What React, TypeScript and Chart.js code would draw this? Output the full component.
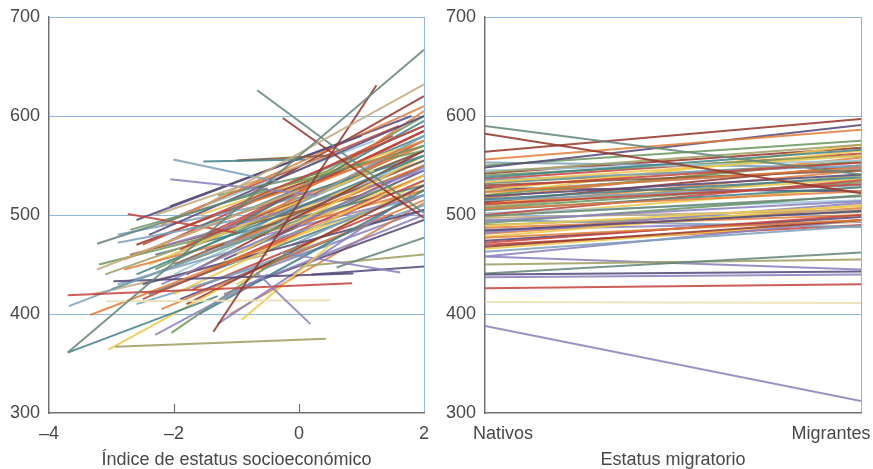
import { useEffect, useRef } from "react";
import { Chart, registerables } from "chart.js";

Chart.register(...registerables);

// ---------- Data: left panel (socioeconomic index vs score) ----------
const sesFrom = [
  -3.7, -1.5, -1.37, -0.67, -0.26, -0.68, -2.94, -3.08, -3.7, -3.7,
  -3.68, -3.34, -3.23, -3.23, -2.9, -2.74, -3.05, -2.3, -2.04, -2.01,
  -1.53, -1.0, -2.06, -2.06, -0.92, -0.3, 0.2, 0.6, 0.0, -2.97,
  -2.5, -2.8, -2.6, -2.2, -2.0, -1.8, -2.4, -2.2, -2.7, -1.5,
  -1.2, -1.0, -2.0, -2.9, -3.0, -2.5, -1.6, -1.3, -2.2, -1.8,
  -1.0, -0.5, -2.6, -2.3, -1.6, -2.1, -2.8, -2.5, -1.5, -1.2,
  -0.8, -1.9, -1.1, -0.9, -2.4, -3.1, -2.0, -1.7, -1.4, -2.3,
  -0.7, -1.5, -2.7, -0.4, -1.9, -2.6, -1.1, -3.3, -0.2, -1.3,
  -2.9, -0.6, -1.8, -0.8, -1.0, -2.2, -3.2, -1.8, -1.4, -0.6,
  -2.3, -1.2, -0.9, -1.6, -2.0, -0.3, -1.7, -2.1, -0.5, -1.0,
  -2.6, -1.3, -0.1, -2.4, -1.9,
];
const sesTo = [
  2, 2, 1.24, 2, 2, 0.18, 0.43, 0.5, 0.85, -1.3,
  -0.5, -0.2, 0, -0.5, -1, -1, -1.2, -0.5, 0, -0.3,
  0.1, 0.5, 0.3, 1, 0.5, 1.62, 2, 2, 2, 0.87,
  2, 2, 2, 2, 2, 2, 2, 2, 2, 2,
  2, 2, 2, 2, 1.5, 2, 2, 1.8, 2, 2,
  2, 2, 1.8, 0.5, 2, 2, 2, 2, 2, 2,
  2, 2, 2, 2, 1.2, 0.5, 1.8, 2, 2, 2,
  2, 2, 1.0, 2, 1.5, 0.5, 2, -0.5, 2, 2,
  0.2, 2, 2, 2, 2, 1.5, -1, 2, 2, 2,
  1.6, 2, 2, 2, 2, 2, 2, 1.2, 2, 1.8,
  0.8, 2, 2, 1.0, 1.6,
];
const scoreFrom = [
  361, 510, 382, 626, 598, 442, 367, 413, 419, 361,
  408, 399, 445, 471, 472, 501, 364, 379, 381, 556,
  554, 555, 536, 509, 394, 462, 440, 447, 448, 433,
  470, 455, 440, 430, 420, 410, 480, 490, 485, 480,
  470, 460, 450, 430, 425, 415, 400, 390, 405, 440,
  490, 500, 495, 500, 500, 470, 445, 430, 430, 420,
  430, 465, 505, 510, 450, 440, 440, 455, 445, 460,
  470, 465, 460, 480, 415, 410, 400, 420, 520, 520,
  480, 445, 485, 520, 430, 470, 450, 470, 490, 495,
  445, 455, 480, 475, 460, 500, 425, 495, 510, 475,
  470, 450, 470, 420, 500,
];
const scoreTo = [
  667, 632, 631, 502, 497, 390, 375, 414, 431, 418,
  485, 475, 525, 527, 495, 482, 428, 440, 470, 533,
  556, 560, 520, 580, 470, 442, 448, 477, 460, 441,
  590, 575, 560, 548, 540, 530, 600, 610, 570, 585,
  580, 560, 555, 520, 530, 535, 525, 520, 515, 565,
  595, 605, 600, 560, 575, 545, 525, 505, 510, 500,
  495, 585, 590, 570, 545, 520, 555, 550, 540, 530,
  550, 520, 520, 540, 500, 470, 512, 460, 585, 565,
  520, 505, 560, 620, 535, 580, 485, 570, 580, 575,
  560, 545, 560, 565, 565, 555, 520, 575, 600, 545,
  550, 525, 530, 500, 590,
];
const sesColorIdx = [
  10, 11, 1, 10, 1, 7, 4, 14, 0, 5,
  6, 2, 11, 10, 6, 0, 3, 7, 9, 6,
  5, 13, 7, 8, 3, 7, 8, 10, 4, 8,
  0, 2, 5, 7, 3, 1, 8, 2, 9, 0,
  6, 3, 13, 6, 9, 0, 5, 7, 2, 1,
  5, 2, 8, 11, 3, 7, 2, 8, 6, 7,
  8, 0, 10, 2, 3, 4, 12, 2, 0, 5,
  1, 7, 13, 3, 8, 6, 2, 11, 0, 9,
  6, 7, 5, 1, 3, 0, 9, 2, 5, 0,
  9, 8, 3, 13, 6, 7, 0, 12, 9, 2,
  1, 3, 6, 5, 0,
];
const sesTicks = [-4, -2, 0, 2];

// ---------- Data: right panel (migration status vs score) ----------
const migCategories = ["Nativos", "Migrantes"];
const nativos = [
  388, 412, 426, 437, 440, 441, 450, 458, 590, 582,
  564, 556, 548, 543, 538, 533, 528, 523, 519, 516,
  511, 506, 499, 494, 489, 484, 477, 472, 468, 463,
  458, 545, 540, 535, 530, 525, 520, 515, 510, 505,
  500, 497, 492, 487, 482, 478, 474, 466, 550, 553,
  520, 513, 508, 502, 495, 490, 485, 470, 517, 527,
  512, 536, 507, 481, 524, 542, 498, 532,
];
const migrantes = [
  312, 411, 430, 440, 443, 462, 455, 445, 541, 522,
  597, 586, 591, 571, 566, 560, 553, 548, 541, 538,
  531, 524, 519, 514, 509, 504, 495, 500, 495, 489,
  495, 555, 560, 550, 545, 565, 555, 530, 545, 528,
  535, 505, 520, 500, 512, 510, 498, 494, 575, 548,
  571, 550, 540, 515, 488, 503, 493, 490, 558, 524,
  536, 562, 533, 507, 547, 568, 528, 553,
];
const migColorIdx = [
  7, 14, 0, 7, 8, 10, 4, 7, 10, 1,
  1, 2, 8, 4, 5, 3, 0, 2, 8, 5,
  0, 2, 10, 7, 3, 8, 2, 0, 1, 6,
  7, 12, 9, 6, 13, 3, 9, 6, 2, 5,
  0, 11, 9, 2, 7, 3, 8, 3, 9, 6,
  3, 1, 4, 12, 6, 4, 7, 0, 2, 8,
  3, 0, 9, 2, 6, 1, 3, 10,
];

const yTicks = [300, 400, 500, 600, 700];

// ---------- Styles ----------
const PALETTE = [
  "rgba(196,66,58,0.85)",   // red
  "rgba(150,56,46,0.88)",   // dark red
  "rgba(226,124,58,0.85)",  // orange
  "rgba(238,200,76,0.88)",  // yellow
  "rgba(160,158,100,0.88)", // olive
  "rgba(63,127,134,0.85)",  // teal
  "rgba(126,160,188,0.88)", // blue-gray
  "rgba(140,130,190,0.88)", // purple
  "rgba(86,74,122,0.88)",   // dark purple
  "rgba(108,152,96,0.88)",  // green
  "rgba(104,136,122,0.88)", // gray-green
  "rgba(192,172,128,0.88)", // tan
  "rgba(160,200,216,0.9)",  // light blue
  "rgba(140,90,60,0.88)",   // brown
  "rgba(236,226,180,0.95)", // light yellow
];
const BLUE = "#8fb6e2";
const AXIS = "#707070";
const TEXT = "#484848";
const FONT = "'Liberation Sans', Arial, Helvetica, sans-serif";
const NONE = "rgba(0,0,0,0)";

function fmtSes(v: number) {
  return v < 0 ? "\u2013" + Math.abs(v) : String(v);
}

function yScale() {
  return {
    type: "linear",
    min: 300,
    max: 700,
    afterBuildTicks: (s: any) => {
      s.ticks = yTicks.map((v) => ({ value: v }));
    },
    afterFit: (s: any) => {
      s.width = 49;
      s.paddingTop = 0;
      s.paddingBottom = 0;
    },
    ticks: { color: TEXT, font: { family: FONT, size: 18 }, padding: 9 },
    grid: {
      color: (ctx: any) => (ctx.tick && ctx.tick.value === 300 ? NONE : BLUE),
      lineWidth: 1,
      drawTicks: false,
    },
    border: { color: AXIS, width: 1.5 },
  };
}

function xBase(title: string) {
  return {
    type: "linear",
    afterFit: (s: any) => {
      s.height = 56;
      s.paddingLeft = 0;
      s.paddingRight = 0;
    },
    border: { color: AXIS, width: 1.5 },
    title: {
      display: true,
      text: title,
      color: TEXT,
      font: { family: FONT, size: 18, lineHeight: 1 },
      padding: 0,
    },
  };
}

function makeChart(canvas: HTMLCanvasElement, datasets: any[], xOpts: any, extraPlugins: any[]) {
  return new Chart(canvas, {
    type: "line",
    data: { datasets },
    options: {
      animation: false,
      responsive: false,
      devicePixelRatio: 1,
      events: [],
      layout: { padding: { top: 17, right: 12, left: 0, bottom: 0 } },
      plugins: { legend: { display: false }, tooltip: { enabled: false } },
      elements: { point: { radius: 0 }, line: { tension: 0 } },
      scales: { x: xOpts, y: yScale() as any },
    },
    plugins: extraPlugins,
  } as any);
}

export default function App() {
  const leftRef = useRef<HTMLCanvasElement>(null);
  const rightRef = useRef<HTMLCanvasElement>(null);

  useEffect(() => {
    const leftSets = sesFrom.map((x1, i) => ({
      data: [
        { x: x1, y: scoreFrom[i] },
        { x: sesTo[i], y: scoreTo[i] },
      ],
      borderColor: PALETTE[sesColorIdx[i]],
      borderWidth: 2,
      fill: false,
      pointRadius: 0,
    }));

    const innerTicks = {
      id: "innerTicks",
      afterDatasetsDraw(chart: any) {
        const { ctx, chartArea, scales } = chart;
        ctx.save();
        ctx.strokeStyle = AXIS;
        ctx.lineWidth = 1.2;
        sesTicks
          .filter((v) => v > sesTicks[0] && v < sesTicks[sesTicks.length - 1])
          .forEach((v) => {
            const px = Math.round(scales.x.getPixelForValue(v)) + 0.5;
            ctx.beginPath();
            ctx.moveTo(px, chartArea.bottom);
            ctx.lineTo(px, chartArea.bottom - 9);
            ctx.stroke();
          });
        ctx.restore();
      },
    };

    const left = makeChart(
      leftRef.current!,
      leftSets,
      {
        ...xBase("Índice de estatus socioeconómico"),
        min: sesTicks[0],
        max: sesTicks[sesTicks.length - 1],
        afterBuildTicks: (s: any) => {
          s.ticks = sesTicks.map((v) => ({ value: v }));
        },
        ticks: {
          color: TEXT,
          font: { family: FONT, size: 18 },
          padding: 10,
          maxRotation: 0,
          autoSkip: false,
          callback: (v: any) => fmtSes(Number(v)),
        },
        grid: {
          color: (ctx: any) => (ctx.tick && ctx.tick.value === sesTicks[sesTicks.length - 1] ? BLUE : NONE),
          lineWidth: 1,
          drawTicks: false,
        },
      },
      [innerTicks]
    );

    const rightSets = nativos.map((a, i) => ({
      data: [
        { x: 0, y: a },
        { x: 1, y: migrantes[i] },
      ],
      borderColor: PALETTE[migColorIdx[i]],
      borderWidth: 2,
      fill: false,
      pointRadius: 0,
    }));

    // where the two category captions sit along the axis (fraction)
    const labelAt = [0.048, 0.92];

    const right = makeChart(
      rightRef.current!,
      rightSets,
      {
        ...xBase("Estatus migratorio"),
        min: 0,
        max: 1,
        afterBuildTicks: (s: any) => {
          s.ticks = [{ value: 0 }, { value: labelAt[0] }, { value: labelAt[1] }, { value: 1 }];
        },
        ticks: {
          color: TEXT,
          font: { family: FONT, size: 18 },
          padding: 10,
          maxRotation: 0,
          autoSkip: false,
          callback: (v: any) => {
            const n = Number(v);
            if (n === labelAt[0]) return migCategories[0];
            if (n === labelAt[1]) return migCategories[1];
            return "";
          },
        },
        grid: {
          color: (ctx: any) => (ctx.tick && ctx.tick.value === 1 ? BLUE : NONE),
          lineWidth: 1,
          drawTicks: false,
        },
      },
      []
    );

    return () => {
      left.destroy();
      right.destroy();
    };
  }, []);

  return (
    <div
      style={{
        position: "fixed",
        left: 0,
        top: 0,
        width: 873,
        height: 469,
        overflow: "hidden",
        background: "#ffffff",
      }}
    >
      <canvas ref={leftRef} width={436} height={469} style={{ position: "absolute", left: 0, top: 0 }} />
      <canvas ref={rightRef} width={437} height={469} style={{ position: "absolute", left: 436, top: 0 }} />
    </div>
  );
}
